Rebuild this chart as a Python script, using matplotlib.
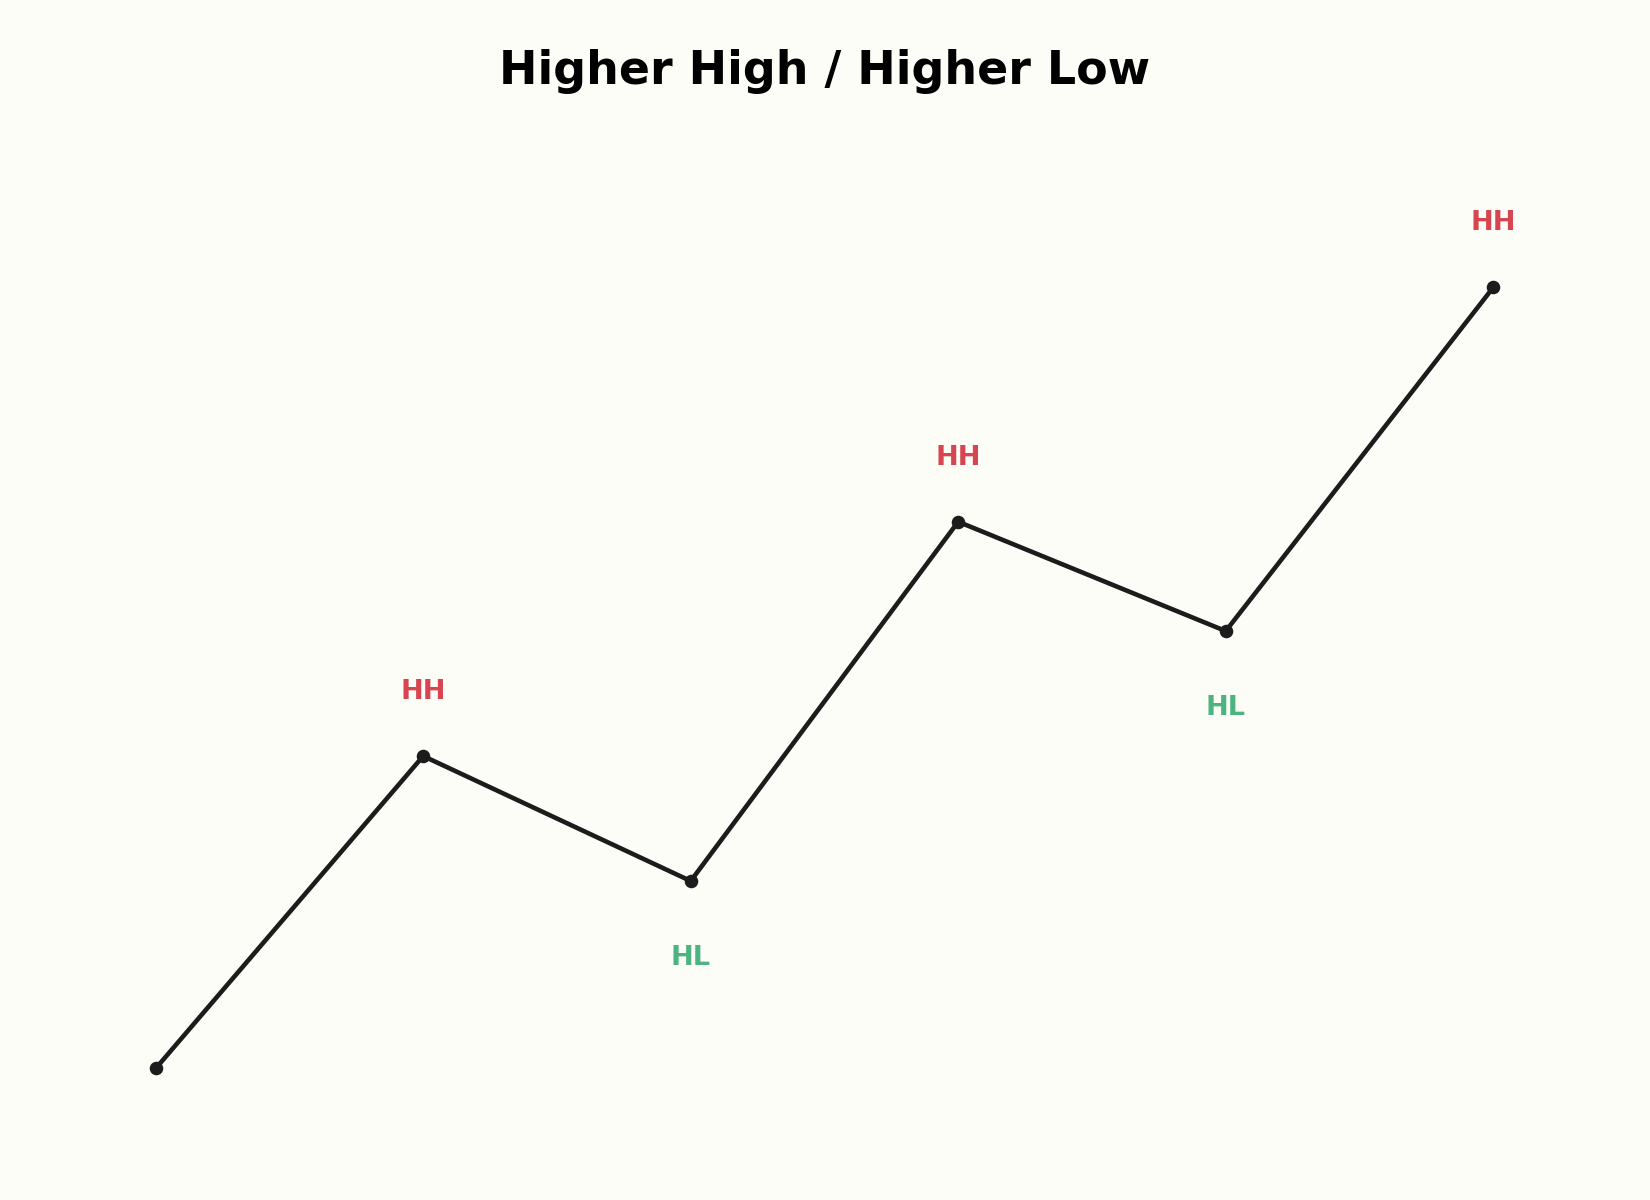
import matplotlib.pyplot as plt

# swing points
idx = [0, 1, 2, 3, 4, 5]
price = [100, 110, 106, 117.5, 114, 125]
tags = ["", "HH", "HL", "HH", "HL", "HH"]

bg = "#fdfdf8"
tag_colors = {"HH": "#d64550", "HL": "#4db380"}

fig = plt.figure(figsize=(11, 8), dpi=150, facecolor=bg)
ax = fig.add_axes([0, 0, 1, 1])
ax.set_facecolor(bg)

ax.plot(idx, price, color="#1c1c1c", lw=2.2, marker="o", markersize=5.5)

for x, y, t in zip(idx, price, tags):
    if not t:
        continue
    dy = 2.05 if t == "HH" else -2.45
    ax.text(x, y + dy, t, color=tag_colors[t], fontsize=13, fontweight="bold",
            ha="center", va="center")

ax.set_xlim(-0.582, 5.586)
ax.set_ylim(95.79, 134.2)
ax.axis("off")

fig.text(0.5, 0.940, "Higher High / Higher Low", fontsize=22, fontweight="bold",
         ha="center", va="center")

fig.savefig("out.png", facecolor=bg)
